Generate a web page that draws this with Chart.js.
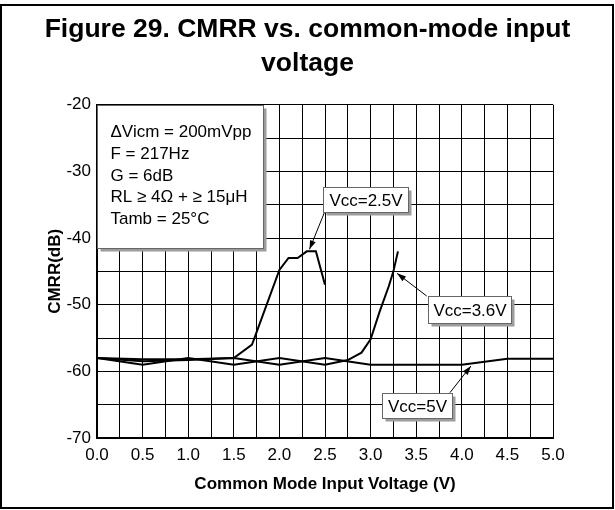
<!DOCTYPE html>
<html>
<head>
<meta charset="utf-8">
<script src="https://cdn.jsdelivr.net/npm/chart.js@4.4.1/dist/chart.umd.min.js"></script>
<style>
  html, body { margin: 0; padding: 0; background: #fff; }
  #wrap { width: 615px; height: 510px; }
</style>
</head>
<body>
<div id="wrap"><canvas id="c" width="615" height="510"></canvas></div>
<script>
// Values
const vcc25V  = [0, 0.5, 1.0, 1.5, 1.7, 2.0, 2.1, 2.2, 2.3, 2.4, 2.5];
const vcc25Db = [-58, -58.2, -58.2, -58, -56, -44.8, -43, -43, -42, -42, -47];

const vcc36V  = [0, 0.5, 1.0, 1.5, 2.0, 2.5, 2.75, 2.9, 3.0, 3.1, 3.2, 3.25, 3.3];
const vcc36Db = [-58, -59, -58, -59, -58, -59, -58.3, -57.2, -55.2, -51, -47.2, -45, -42];

const vcc5V  = [0, 0.5, 1.0, 1.5, 2.0, 2.5, 3.0, 3.5, 4.0, 4.5, 5.0];
const vcc5Db = [-58, -58.5, -58.3, -58, -59, -58, -59, -59, -59, -58.1, -58.1];

const xLabels = ['0.0', '0.5', '1.0', '1.5', '2.0', '2.5', '3.0', '3.5', '4.0', '4.5', '5.0'];
const yLabels = ['-70', '-60', '-50', '-40', '-30', '-20'];

const seriesNames = ['Vcc=2.5V', 'Vcc=3.6V', 'Vcc=5V'];
const conditions = ['\u0394Vicm = 200mVpp', 'F = 217Hz', 'G = 6dB', 'RL \u2265 4\u03A9 + \u2265 15\u03BCH', 'Tamb = 25\u00B0C'];

const FONT = "'Liberation Sans', Arial, sans-serif";

function pts(xs, ys) {
  return xs.map((x, i) => ({ x: x, y: ys[i] }));
}

// white page with the figure frame
const framePlugin = {
  id: 'frame',
  beforeDraw(chart) {
    const ctx = chart.ctx;
    ctx.save();
    ctx.fillStyle = '#fff';
    ctx.fillRect(0, 0, chart.width, chart.height);
    ctx.strokeStyle = '#000';
    ctx.lineWidth = 2;
    ctx.strokeRect(1, 5, chart.width - 3, chart.height - 7);
    ctx.restore();
  }
};

// condition box, curve labels and their arrows
const notesPlugin = {
  id: 'notes',
  afterDatasetsDraw(chart) {
    const ctx = chart.ctx;
    const xs = chart.scales.x, ys = chart.scales.y;
    const px = v => xs.getPixelForValue(v);
    const py = v => ys.getPixelForValue(v);

    function box(x0, y0, x1, y1) {
      const l = Math.round(px(x0)) + 0.5, t = Math.round(py(y0)) + 0.5;
      const r = Math.round(px(x1)) + 0.5, b = Math.round(py(y1)) + 0.5;
      ctx.fillStyle = '#9c9c9c';
      ctx.fillRect(l + 3, t + 3, r - l, b - t);
      ctx.fillStyle = '#fff';
      ctx.fillRect(l, t, r - l, b - t);
      ctx.strokeStyle = '#666';
      ctx.lineWidth = 1;
      ctx.strokeRect(l, t, r - l, b - t);
      return { l, t, r, b };
    }

    function arrow(x0, y0, x1, y1) {
      const ax = px(x0), ay = py(y0), bx = px(x1), by = py(y1);
      const ang = Math.atan2(by - ay, bx - ax);
      ctx.strokeStyle = '#000';
      ctx.lineWidth = 1;
      ctx.beginPath();
      ctx.moveTo(ax, ay);
      ctx.lineTo(bx, by);
      ctx.stroke();
      ctx.fillStyle = '#000';
      ctx.beginPath();
      ctx.moveTo(bx, by);
      ctx.lineTo(bx - 9 * Math.cos(ang) + 3 * Math.sin(ang), by - 9 * Math.sin(ang) - 3 * Math.cos(ang));
      ctx.lineTo(bx - 9 * Math.cos(ang) - 3 * Math.sin(ang), by - 9 * Math.sin(ang) + 3 * Math.cos(ang));
      ctx.closePath();
      ctx.fill();
    }

    ctx.save();
    // test conditions
    const c = box(0, -20, 1.82, -41.55);
    ctx.fillStyle = '#000';
    ctx.font = '17px ' + FONT;
    ctx.textAlign = 'left';
    ctx.textBaseline = 'middle';
    conditions.forEach((s, i) => ctx.fillText(s, c.l + 13, c.t + 27 + i * 21.7));

    // curve labels
    const labels = [
      { x0: 2.478, y0: -32.3, x1: 3.41, y1: -36.05, from: [2.497, -36.06], to: [2.33, -41.7] },
      { x0: 3.63, y0: -48.7, x1: 4.54, y1: -52.7, from: [3.615, -48.7], to: [3.29, -45.3] },
      { x0: 3.12, y0: -63.3, x1: 3.89, y1: -67.0, from: [3.87, -63.2], to: [4.1, -59.2] }
    ];
    labels.forEach((lb, i) => {
      arrow(lb.from[0], lb.from[1], lb.to[0], lb.to[1]);
      const b = box(lb.x0, lb.y0, lb.x1, lb.y1);
      ctx.fillStyle = '#000';
      ctx.textAlign = 'center';
      ctx.fillText(seriesNames[i], (b.l + b.r) / 2, (b.t + b.b) / 2 + 1);
    });
    ctx.restore();
  }
};

const lineStyle = { borderColor: '#000', borderWidth: 2, pointRadius: 0, tension: 0, fill: false };

new Chart(document.getElementById('c'), {
  type: 'line',
  data: {
    datasets: [
      { label: seriesNames[0], data: pts(vcc25V, vcc25Db), ...lineStyle },
      { label: seriesNames[1], data: pts(vcc36V, vcc36Db), ...lineStyle },
      { label: seriesNames[2], data: pts(vcc5V, vcc5Db), ...lineStyle }
    ]
  },
  options: {
    responsive: false,
    devicePixelRatio: 1,
    animation: false,
    layout: { padding: 0 },
    plugins: {
      legend: { display: false },
      tooltip: { enabled: false },
      title: {
        display: true,
        text: ['Figure 29. CMRR vs. common-mode input', 'voltage'],
        color: '#000',
        font: { family: FONT, size: 26.5, weight: 'bold', lineHeight: 1.3 },
        padding: { top: 12, bottom: 23.8 }
      }
    },
    scales: {
      x: {
        type: 'linear',
        min: 0, max: 5,
        afterFit(scale) { scale.height = 72; },
        grid: { color: '#000', lineWidth: 1, drawTicks: false },
        border: { color: '#000', width: 2 },
        ticks: {
          stepSize: 0.25,
          autoSkip: false,
          maxRotation: 0,
          padding: 7,
          color: '#000',
          font: { family: FONT, size: 17 },
          callback(v) {
            const s = Number(v).toFixed(1);
            return xLabels.includes(s) && Math.abs(v * 2 - Math.round(v * 2)) < 1e-6 ? s : '';
          }
        },
        title: {
          display: true,
          text: 'Common Mode Input Voltage (V)',
          color: '#000',
          font: { family: FONT, size: 17, weight: 'bold' },
          padding: { top: 0, bottom: 15 }
        }
      },
      y: {
        min: -70, max: -20,
        afterFit(scale) { scale.width = 97; },
        grid: { color: '#000', lineWidth: 1, drawTicks: false },
        border: { color: '#000', width: 2 },
        ticks: {
          stepSize: 5,
          autoSkip: false,
          padding: 6,
          color: '#000',
          font: { family: FONT, size: 17 },
          callback(v) {
            const s = String(Math.round(v));
            return yLabels.includes(s) && Math.round(v) % 10 === 0 ? s : '';
          }
        },
        title: {
          display: true,
          text: 'CMRR(dB)',
          color: '#000',
          font: { family: FONT, size: 17, weight: 'bold' },
          padding: { top: 45, bottom: 0 }
        }
      },
      // empty right-hand margin so the figure title centres on the whole page
      margin: {
        position: 'right',
        min: -70, max: -20,
        afterFit(scale) { scale.width = 62; },
        grid: { display: false, drawOnChartArea: false, drawTicks: false },
        border: { display: false },
        ticks: { display: false }
      }
    }
  },
  plugins: [framePlugin, notesPlugin]
});
</script>
</body>
</html>
